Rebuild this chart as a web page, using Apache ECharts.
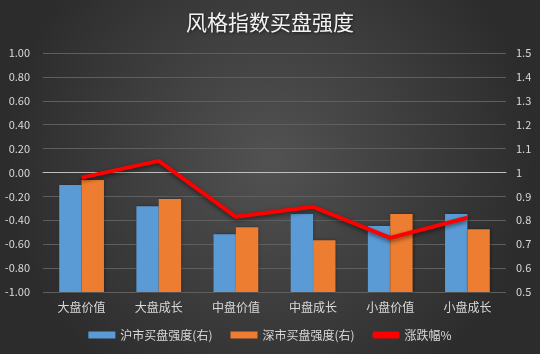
<!DOCTYPE html>
<html>
<head>
<meta charset="utf-8">
<script src="https://cdn.jsdelivr.net/npm/echarts@6/dist/echarts.min.js"></script>
<style>
  html, body { margin: 0; padding: 0; }
  #chart { width: 540px; height: 354px; }
</style>
</head>
<body>
<div id="chart"></div>
<script>
// 分类
const categories = ['大盘价值', '大盘成长', '中盘价值', '中盘成长', '小盘价值', '小盘成长']
// 沪市买盘强度(右)
const shStrength = [0.948, 0.859, 0.742, 0.826, 0.776, 0.826]
// 深市买盘强度(右)
const szStrength = [0.969, 0.889, 0.771, 0.717, 0.826, 0.763]
// 涨跌幅%
const pctChange = [-0.043, 0.097, -0.371, -0.287, -0.547, -0.379]

const labelColor = '#d9d9d9'
const font = '"Noto Sans CJK SC", "Microsoft YaHei", sans-serif'

const chart = echarts.init(document.getElementById('chart'))

const option = {
  backgroundColor: {
    type: 'radial', x: 0.5, y: 0.45, r: 0.75,
    colorStops: [
      { offset: 0, color: '#525252' },
      { offset: 1, color: '#2c2c2c' }
    ]
  },
  title: {
    text: '风格指数买盘强度',
    left: 'center',
    top: 7,
    textStyle: {
      color: '#f2f2f2',
      fontSize: 21,
      fontWeight: 'normal',
      fontFamily: font,
      textShadowColor: 'rgba(0,0,0,0.6)',
      textShadowBlur: 3,
      textShadowOffsetX: 1,
      textShadowOffsetY: 1
    }
  },
  legend: {
    bottom: 8,
    itemWidth: 27,
    itemHeight: 7,
    itemGap: 18,
    textStyle: { color: labelColor, fontSize: 12, fontFamily: font },
    data: [
      { name: '沪市买盘强度(右)', icon: 'rect' },
      { name: '深市买盘强度(右)', icon: 'rect' },
      { name: '涨跌幅%', icon: 'roundRect' }
    ]
  },
  grid: { left: 43, right: 34, top: 53, bottom: 62 },
  xAxis: {
    type: 'category',
    data: categories,
    axisLine: { show: true, onZero: true, lineStyle: { color: '#bfbfbf', width: 1 } },
    axisTick: { show: false },
    axisLabel: { color: labelColor, fontSize: 12, fontFamily: font, margin: 9 }
  },
  yAxis: [
    {
      type: 'value',
      min: -1,
      max: 1,
      interval: 0.2,
      axisLine: { show: false },
      axisTick: { show: false },
      splitLine: { lineStyle: { color: '#5f5f5f', width: 1 } },
      axisLabel: {
        color: labelColor, fontSize: 11, fontFamily: font, margin: 13,
        formatter: v => v.toFixed(2)
      }
    },
    {
      type: 'value',
      min: 0.5,
      max: 1.5,
      interval: 0.1,
      axisLine: { show: false },
      axisTick: { show: false },
      splitLine: { show: false },
      axisLabel: {
        color: labelColor, fontSize: 11, fontFamily: font, margin: 10,
        formatter: v => String(Math.round(v * 10) / 10)
      }
    }
  ],
  series: [
    {
      name: '沪市买盘强度(右)',
      type: 'bar',
      yAxisIndex: 1,
      data: shStrength,
      barGap: '0%',
      barCategoryGap: '42%',
      itemStyle: { color: '#5b9bd5', shadowColor: 'rgba(0,0,0,0.35)', shadowBlur: 3, shadowOffsetX: 1 }
    },
    {
      name: '深市买盘强度(右)',
      type: 'bar',
      yAxisIndex: 1,
      data: szStrength,
      barGap: '0%',
      barCategoryGap: '42%',
      itemStyle: { color: '#ed7d31', shadowColor: 'rgba(0,0,0,0.35)', shadowBlur: 3, shadowOffsetX: 1 }
    },
    {
      name: '涨跌幅%',
      type: 'line',
      yAxisIndex: 0,
      data: pctChange,
      symbol: 'none',
      z: 5,
      itemStyle: { color: '#ff0000' },
      lineStyle: {
        color: '#ff0000', width: 4,
        shadowColor: 'rgba(0,0,0,0.5)', shadowBlur: 4, shadowOffsetY: 2
      }
    }
  ]
}

chart.setOption(option)
</script>
</body>
</html>
